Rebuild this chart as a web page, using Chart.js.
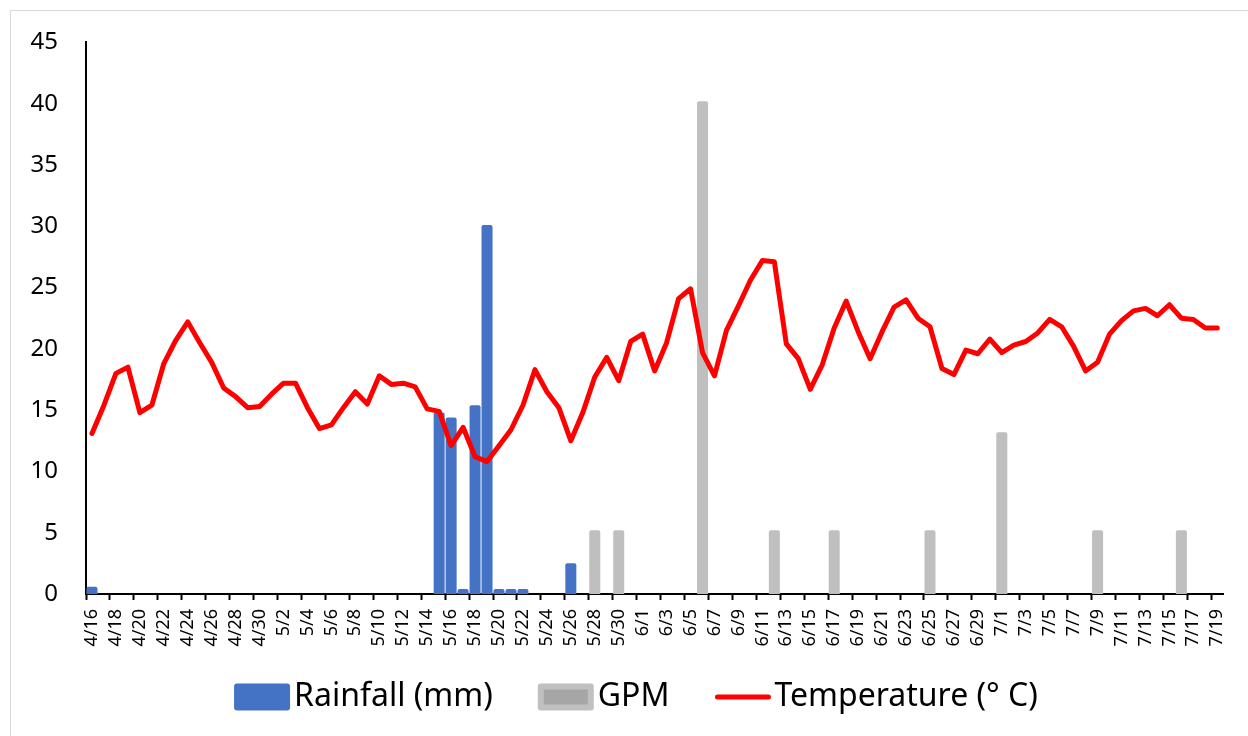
<!DOCTYPE html>
<html>
<head>
<meta charset="utf-8">
<script src="https://cdn.jsdelivr.net/npm/chart.js@4.4.1/dist/chart.umd.min.js"></script>
<style>
  body { margin: 0; background: #fff; overflow: hidden; }
  #wrap { position: relative; width: 1248px; height: 736px; }
  #frame { position: absolute; left: 10px; top: 10px; right: -5px; bottom: -5px; border: 1px solid #d9d9d9; }
  canvas { position: absolute; left: 0; top: 0; }
</style>
</head>
<body>
<div id="wrap">
  <div id="frame"></div>
  <canvas id="chart" width="1248" height="736"></canvas>
</div>
<script>
// 日付ラベル (4/16 - 7/19)
var dates = [
  "4/16","4/17","4/18","4/19","4/20","4/21","4/22","4/23","4/24","4/25",
  "4/26","4/27","4/28","4/29","4/30","5/1","5/2","5/3","5/4","5/5",
  "5/6","5/7","5/8","5/9","5/10","5/11","5/12","5/13","5/14","5/15",
  "5/16","5/17","5/18","5/19","5/20","5/21","5/22","5/23","5/24","5/25",
  "5/26","5/27","5/28","5/29","5/30","5/31","6/1","6/2","6/3","6/4",
  "6/5","6/6","6/7","6/8","6/9","6/10","6/11","6/12","6/13","6/14",
  "6/15","6/16","6/17","6/18","6/19","6/20","6/21","6/22","6/23","6/24",
  "6/25","6/26","6/27","6/28","6/29","6/30","7/1","7/2","7/3","7/4",
  "7/5","7/6","7/7","7/8","7/9","7/10","7/11","7/12","7/13","7/14",
  "7/15","7/16","7/17","7/18","7/19"
];

// 雨量 (mm)
var rainfall = [
  0.6,0,0,0,0,0,0,0,0,0,
  0,0,0,0,0,0,0,0,0,0,
  0,0,0,0,0,0,0,0,0,14.8,
  14.4,0.4,15.4,30.1,0.4,0.4,0.4,0,0,0,
  2.5,0,0,0,0,0,0,0,0,0,
  0,0,0,0,0,0,0,0,0,0,
  0,0,0,0,0,0,0,0,0,0,
  0,0,0,0,0,0,0,0,0,0,
  0,0,0,0,0,0,0,0,0,0,
  0,0,0,0,0
];

// GPM
var gpm = [
  0,0,0,0,0,0,0,0,0,0,
  0,0,0,0,0,0,0,0,0,0,
  0,0,0,0,0,0,0,0,0,0,
  0,0,0,0,0,0,0,0,0,0,
  0,0,5.2,0,5.2,0,0,0,0,0,
  0,40.2,0,0,0,0,0,5.2,0,0,
  0,0,5.2,0,0,0,0,0,0,0,
  5.2,0,0,0,0,0,13.2,0,0,0,
  0,0,0,0,5.2,0,0,0,0,0,
  0,5.2,0,0,0
];

// 気温 (°C)
var temperature = [
  13.1,15.4,18.0,18.5,14.8,15.4,18.8,20.7,22.2,20.5,
  18.9,16.8,16.1,15.2,15.3,16.3,17.2,17.2,15.2,13.5,
  13.8,15.2,16.5,15.5,17.8,17.1,17.2,16.9,15.1,14.9,
  12.1,13.6,11.2,10.8,12.1,13.4,15.4,18.3,16.5,15.2,
  12.5,14.8,17.7,19.3,17.4,20.6,21.2,18.2,20.5,24.1,
  24.9,19.7,17.8,21.5,23.5,25.6,27.2,27.1,20.4,19.2,
  16.7,18.7,21.7,23.9,21.4,19.2,21.4,23.4,24.0,22.5,
  21.8,18.4,17.9,19.9,19.6,20.8,19.7,20.3,20.6,21.3,
  22.4,21.8,20.2,18.2,18.9,21.2,22.3,23.1,23.3,22.7,
  23.6,22.5,22.4,21.7,21.7
];

// y軸の目盛り
var yMin = 0, yMax = 45, yStep = 5;

// 凡例 (Excel風: 箱と文字の間が狭い)
var excelLegend = {
  id: 'excelLegend',
  afterDraw: function (chart) {
    var c = chart.ctx;
    var boxW = 56, boxH = 27, gapText = 4, gapItem = 45;
    var midY = 697, baseY = 706, centerX = 636;
    c.save();
    c.font = '32px "Noto Sans"';
    var items = chart.data.datasets.map(function (ds) {
      return { ds: ds, w: boxW + gapText + c.measureText(ds.label).width };
    });
    var total = gapItem * (items.length - 1);
    items.forEach(function (it) { total += it.w; });
    var x = centerX - total / 2;
    items.forEach(function (it) {
      var ds = it.ds;
      if (ds.type === 'line') {
        c.strokeStyle = ds.borderColor;
        c.lineWidth = 5;
        c.lineCap = 'round';
        c.beginPath();
        c.moveTo(x + 3, midY);
        c.lineTo(x + boxW - 2, midY);
        c.stroke();
      } else if (ds.label === "GPM") {
        c.fillStyle = "#c0c0c0";
        c.beginPath();
        c.roundRect(x, midY - boxH / 2, boxW, boxH, 3);
        c.fill();
        c.fillStyle = "#a6a6a6";
        c.fillRect(x + 6, midY - boxH / 2 + 6, boxW - 12, boxH - 12);
      } else {
        c.fillStyle = ds.backgroundColor;
        c.beginPath();
        c.roundRect(x, midY - boxH / 2, boxW, boxH, 3);
        c.fill();
      }
      c.fillStyle = "#000";
      c.textBaseline = 'alphabetic';
      c.fillText(ds.label, x + boxW + gapText, baseY);
      x += it.w + gapItem;
    });
    c.restore();
  }
};

var ctx = document.getElementById("chart");
var myChart = new Chart(ctx, {
  data: {
    labels: dates,
    datasets: [
      {
        type: 'bar',
        label: "Rainfall (mm)",
        data: rainfall,
        backgroundColor: "#4472c4",
        borderRadius: 2,
        grouped: false,
        barPercentage: 0.92,
        categoryPercentage: 1,
        order: 2
      },
      {
        type: 'bar',
        label: "GPM",
        data: gpm,
        backgroundColor: "#bfbfbf",
        borderRadius: 2,
        grouped: false,
        barPercentage: 0.92,
        categoryPercentage: 1,
        order: 2
      },
      {
        type: 'line',
        label: "Temperature (° C)",
        data: temperature,
        borderColor: "#ff0000",
        backgroundColor: "#ff0000",
        borderWidth: 5,
        borderJoinStyle: 'round',
        borderCapStyle: 'round',
        pointRadius: 0,
        tension: 0,
        fill: false,
        order: 1
      }
    ]
  },
  plugins: [excelLegend],
  options: {
    responsive: false,
    devicePixelRatio: 1,
    animation: false,
    layout: { padding: { left: 0, top: 42, right: 22, bottom: 86 } },
    plugins: {
      tooltip: { enabled: false },
      legend: { display: false }
    },
    scales: {
      x: {
        offset: true,
        afterFit: function (scale) { scale.height = 56; },
        grid: {
          display: true,
          drawOnChartArea: false,
          offset: true,
          tickLength: 6,
          tickWidth: 2,
          tickColor: function (c) { return c.index % 2 === 0 ? "#000" : "rgba(0,0,0,0)"; }
        },
        border: { display: true, color: "#000", width: 2 },
        ticks: {
          autoSkip: false,
          minRotation: 90,
          maxRotation: 90,
          padding: 9,
          color: "#000",
          font: { family: "Noto Sans", size: 18 },
          callback: function (v, i) { return i % 2 === 0 ? dates[i] : ''; }
        }
      },
      y: {
        min: yMin,
        max: yMax,
        afterFit: function (scale) { scale.width = 86; },
        grid: { display: false, drawTicks: false },
        border: { display: true, color: "#000", width: 2 },
        ticks: {
          stepSize: yStep,
          padding: 28,
          color: "#000",
          font: { family: "Noto Sans", size: 24 }
        }
      }
    }
  }
});
</script>
</body>
</html>
